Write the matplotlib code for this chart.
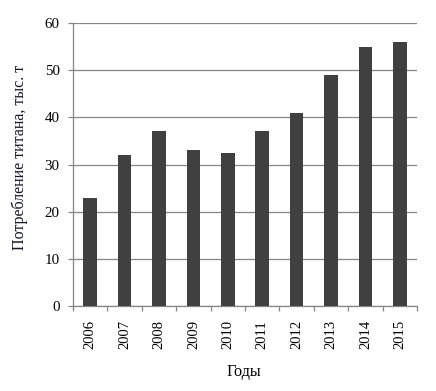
import matplotlib
matplotlib.use("Agg")
import matplotlib.pyplot as plt
import numpy as np

years = ["2006", "2007", "2008", "2009", "2010", "2011", "2012", "2013", "2014", "2015"]
values = [23, 32, 37, 33, 32.5, 37, 41, 49, 55, 56]
yticks = [0, 10, 20, 30, 40, 50, 60]

plt.rcParams['font.family'] = ['Liberation Serif', 'DejaVu Serif']

W, H = 436, 391
fig = plt.figure(figsize=(W/100, H/100), dpi=100)
ax = fig.add_axes([73/W, 1 - 306/H, (417-73)/W, (306-23)/H])

x = np.arange(len(years))
ax.bar(x, values, width=0.4, color='#404040', zorder=3)
ax.set_xlim(-0.5, len(years) - 0.5)
ax.set_ylim(0, 60)
ax.set_yticks(yticks)
ax.set_yticklabels([str(v) for v in yticks], fontsize=10.8, color='black')
ax.set_xticks(x)
ax.set_xticklabels(years, rotation=90, fontsize=10.5, color='black')
ax.tick_params(axis='x', length=0, pad=10)
ax.set_xticks(np.arange(-0.5, len(years)), minor=True)
ax.tick_params(axis='x', which='minor', length=3.6, color='#868686', width=0.9)
ax.tick_params(axis='y', length=3.6, color='#868686', width=0.9, pad=6)
ax.grid(axis='y', color='#868686', linewidth=0.9, zorder=0)
for s in ['top', 'right']:
    ax.spines[s].set_visible(False)
for s in ['left', 'bottom']:
    ax.spines[s].set_color('#868686')
    ax.spines[s].set_linewidth(0.9)
ax.set_ylabel("Потребление титана, тыс. т", fontsize=11.5, color='#15152e')
ax.set_xlabel("Годы", fontsize=11.6, color='black')
ax.yaxis.set_label_coords((20 - 73) / (417 - 73), (306 - 157) / (306 - 23))
ax.xaxis.set_label_coords((244 - 73) / (417 - 73), -(372 - 306) / (306 - 23))
ax.xaxis.label.set_va('center')
ax.yaxis.label.set_va('center')

fig.savefig("out.png", dpi=100)
